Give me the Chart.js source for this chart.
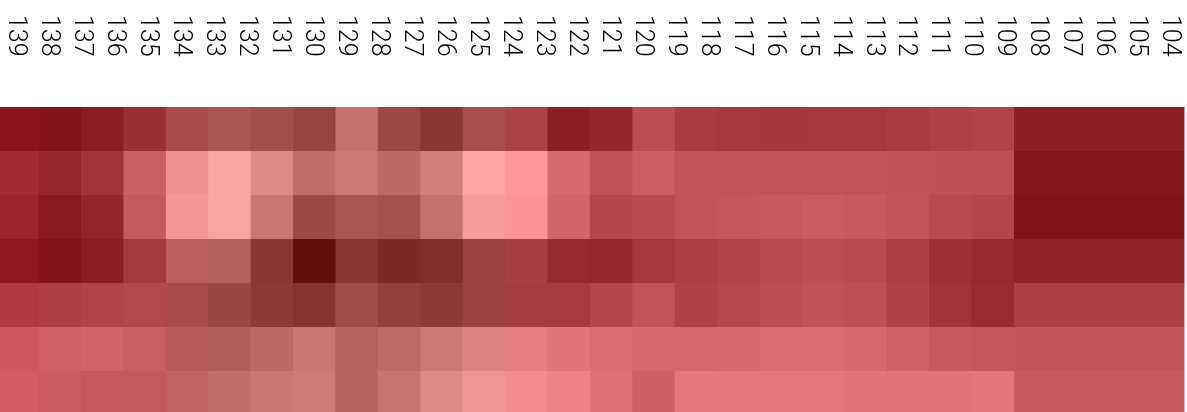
<!DOCTYPE html>
<html>
<head>
<meta charset="utf-8">
<title>Heatmap</title>
<script src="https://cdn.jsdelivr.net/npm/chart.js@4.4.1/dist/chart.umd.min.js"></script>
<style>
  html, body { margin: 0; padding: 0; background: #fff; overflow: hidden; }
  #wrap { position: relative; width: 1187px; height: 412px; }
</style>
</head>
<body>
<div id="wrap"><canvas id="heat"></canvas></div>
<script>
// --------------------------------------------------------------------------
// data
// --------------------------------------------------------------------------
const tickLabels = ['139', '138', '137', '136', '135', '134', '133', '132', '131', '130',
    '129', '128', '127', '126', '125', '124', '123', '122', '121', '120',
    '119', '118', '117', '116', '115', '114', '113', '112', '111', '110',
    '109', '108', '107', '106', '105', '104'];

// palette mix per column: 0 = crimson, 1 = brown
const columnTone = [0, 0.18, 0.32, 0.55, 0.74, 0.87, 1, 1, 0.97, 0.97, 0.9, 0.82, 0.55, 0.4,
    0.18, 0.21, 0.34, 0.35, 0.35, 0.35, 0.35, 0.35, 0.35, 0.36, 0.34, 0.34, 0.34, 0.34];

// heat per cell, one array per row (higher = darker)
const row1 = [177, 180, 172, 156, 134, 127, 137, 148, 102, 144, 160, 134, 137, 170, 162, 122, 141, 144, 146, 145, 145, 141, 136, 133, 169, 169, 169, 169];
const row2 = [152, 161, 149, 107, 64, 49, 77, 107, 95, 111, 87, 47, 52, 95, 118, 106, 117, 117, 117, 117, 117, 118, 120, 121, 178, 178, 178, 178];
const row3 = [160, 174, 164, 113, 59, 49, 97, 143, 130, 135, 102, 55, 55, 100, 130, 125, 117, 115, 111, 108, 111, 117, 126, 131, 181, 181, 181, 181];
const row4 = [173, 180, 172, 146, 115, 119, 161, 201, 161, 175, 169, 147, 141, 160, 161, 144, 137, 133, 126, 122, 126, 138, 152, 160, 166, 166, 166, 166];
const row5 = [138, 136, 134, 131, 134, 143, 158, 165, 139, 152, 157, 146, 144, 143, 130, 116, 135, 130, 122, 118, 121, 135, 149, 158, 137, 137, 137, 137];
const row6 = [108, 103, 101, 108, 119, 121, 111, 97, 118, 110, 94, 81, 77, 84, 91, 96, 98, 97, 92, 92, 96, 103, 110, 115, 116, 116, 116, 116];
const row7 = [103, 107, 113, 114, 110, 103, 97, 93, 118, 99, 77, 62, 64, 70, 87, 104, 81, 81, 81, 81, 84, 85, 85, 82, 111, 111, 111, 111];
const heatRows = [row1, row2, row3, row4, row5, row6, row7];

// --------------------------------------------------------------------------
// colour scale: heat sets lightness, tone sets chroma and hue
// --------------------------------------------------------------------------
function heatColor(heat, tone) {
    const mid = 255 - heat;
    const chroma = 122 - 38 * tone;
    const hue = -6 + 9 * tone;
    const hi = Math.min(255, mid + chroma / 2);
    const lo = mid - chroma / 2;
    const tint = lo + chroma * Math.abs(hue) / 60;
    const g = hue >= 0 ? tint : lo;
    const b = hue >= 0 ? lo : tint;
    return `rgb(${Math.round(hi)}, ${Math.round(g)}, ${Math.round(b)})`;
}

const datasets = heatRows.map((vals, r) => ({
    label: 'row ' + (r + 1),
    data: vals.map((v, c) => ({ x: c, y: [r, r + 1], heat: v })),
    backgroundColor: vals.map((v, c) => heatColor(v, columnTone[c])),
    borderWidth: 0,
    inflateAmount: 0,
    barPercentage: 1.02,
    categoryPercentage: 1,
    grouped: false
}));

// rotated labels along the top, placed by the 'labels' scale
const topLabels = {
    id: 'topLabels',
    afterDraw(chart) {
        const scale = chart.scales.labels;
        const ctx = chart.ctx;
        ctx.save();
        ctx.font = '300 25px Roboto, "Liberation Sans", sans-serif';
        ctx.fillStyle = '#000';
        ctx.textAlign = 'left';
        ctx.textBaseline = 'middle';
        tickLabels.forEach((t, i) => {
            ctx.save();
            ctx.translate(scale.getPixelForTick(i) - 1, 15);
            ctx.rotate(Math.PI / 2);
            ctx.fillText(t, 0, 0);
            ctx.restore();
        });
        ctx.restore();
    }
};

new Chart(document.getElementById('heat'), {
    type: 'bar',
    data: { datasets },
    options: {
        responsive: true,
        maintainAspectRatio: false,
        devicePixelRatio: 1,
        animation: false,
        layout: { padding: { top: 107, left: 0, right: 0, bottom: 0 } },
        plugins: { legend: { display: false }, tooltip: { enabled: false } },
        scales: {
            x: {
                type: 'linear', display: false, offset: false, min: -0.42, max: 27.57,
                ticks: { stepSize: 1, includeBounds: false }
            },
            y: { type: 'linear', display: false, reverse: true, min: 0, max: 6.932 },
            labels: {
                type: 'category', axis: 'x', position: 'top', display: false,
                labels: tickLabels, offset: true
            }
        }
    },
    plugins: [topLabels]
});
</script>
</body>
</html>
